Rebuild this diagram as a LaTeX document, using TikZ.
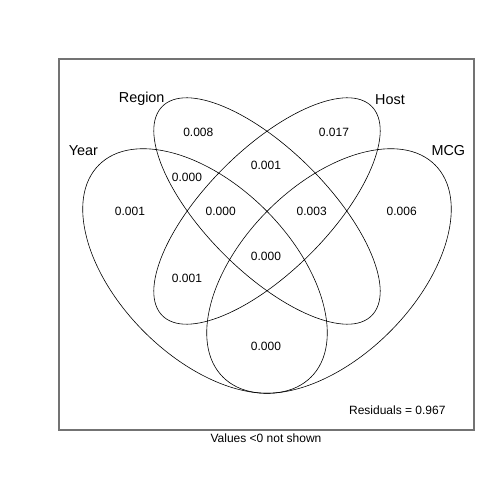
\documentclass[tikz,border=0pt]{standalone}
\usepackage{fontspec}
\setmainfont{Liberation Sans}
\begin{document}
\begin{tikzpicture}[x=1pt,y=1pt,
  set/.style={draw=black, line width=0.6pt},
  val/.style={font=\fontsize{12}{14}\selectfont, inner sep=0pt, anchor=base},
  lab/.style={font=\fontsize{14.4}{16}\selectfont, inner sep=0pt, anchor=base},
  frame/.style={draw=black!55, line width=1.1pt}]
\useasboundingbox (0,0) rectangle (504,504);
\fill[white] (0,0) rectangle (504,504);
% plot frame
\coordinate (bl) at (59,74);
\coordinate (tr) at (474,445);
\draw[frame] (bl) rectangle (tr);
% ellipse centres
\coordinate (cRH) at (267,293);
\coordinate (cY) at (205,233);
\coordinate (cM) at (329,233);
% sets
\draw[set, rotate around={-45:(cRH)}] (cRH) ellipse [x radius=148pt, y radius=61pt];
\draw[set, rotate around={45:(cRH)}] (cRH) ellipse [x radius=148pt, y radius=61pt];
\draw[set, rotate around={-45:(cY)}] (cY) ellipse [x radius=150pt, y radius=86pt];
\draw[set, rotate around={45:(cM)}] (cM) ellipse [x radius=150pt, y radius=86pt];
% set labels
\node[lab] (lRegion) at (141.7,401.5) {Region};
\node[lab] (lHost) at (390,399.5) {Host};
\node[lab] (lYear) at (83.3,348.8) {Year};
\node[lab] (lMCG) at (448.3,348.1) {MCG};
% values
\node[val] (v1) at (198.3,367.4) {0.008};
\node[val] (v2) at (334,367.4) {0.017};
\node[val] (v3) at (266,334.0) {0.001};
\node[val] (v4) at (187,322.0) {0.000};
\node[val] (v5) at (130,288.0) {0.001};
\node[val] (v6) at (220.7,288.0) {0.000};
\node[val] (v7) at (311.7,288.0) {0.003};
\node[val] (v8) at (401.7,288.0) {0.006};
\node[val] (v9) at (266,243.0) {0.000};
\node[val] (v10) at (187,221.0) {0.001};
\node[val] (v11) at (266,153.0) {0.000};
\node[val] (res) at (397.3,89.0) {Residuals = 0.967};
\node[val] (note) at (266,61.4) {Values <0 not shown};
\end{tikzpicture}
\end{document}
